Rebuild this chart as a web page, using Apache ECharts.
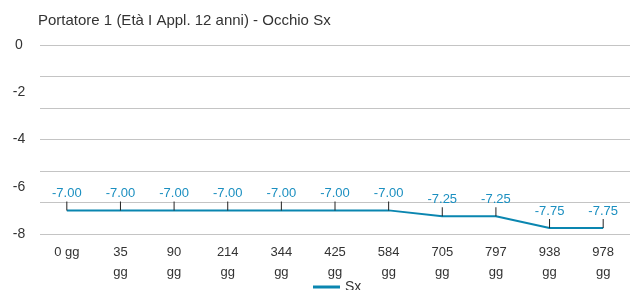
<!DOCTYPE html>
<html>
<head>
<meta charset="utf-8">
<script src="https://cdn.jsdelivr.net/npm/echarts@6/dist/echarts.min.js"></script>
<style>
  html, body { margin: 0; padding: 0; background: #fff; }
  #chart { width: 640px; height: 290px; }
</style>
</head>
<body>
<div id="chart"></div>
<script>
// giorni dall'applicazione
var days = ['0', '35', '90', '214', '344', '425', '584', '705', '797', '938', '978'];
var sxValues = [-7.00, -7.00, -7.00, -7.00, -7.00, -7.00, -7.00, -7.25, -7.25, -7.75, -7.75];
var yMin = -8, yMax = 0;
var labelStep = 2;      // etichette asse y
var gridLines = 6;      // righe orizzontali della griglia

var lineColor = '#0a86b0';
var font = 'Liberation Sans';

var option = {
  animation: false,
  title: {
    text: 'Portatore 1 (Età I Appl. 12 anni) - Occhio Sx',
    left: 33,
    top: 8,
    textStyle: { fontFamily: font, fontSize: 15, fontWeight: 'normal', color: '#333' }
  },
  grid: { left: 40, right: 10, top: 45, bottom: 56 },
  legend: {
    left: 308,
    top: 275,
    itemWidth: 27,
    itemHeight: 3,
    itemGap: 6,
    itemStyle: { color: lineColor },
    textStyle: { fontFamily: font, fontSize: 14, color: '#333' },
    data: [{ name: 'Sx', icon: 'rect', itemStyle: { color: lineColor } }]
  },
  xAxis: {
    type: 'category',
    boundaryGap: true,
    data: days,
    axisLine: { show: false },
    axisTick: { show: false },
    axisLabel: {
      interval: 0,
      margin: 8,
      lineHeight: 20,
      fontFamily: font,
      fontSize: 13,
      color: '#333',
      formatter: function (v) { return v === '0' ? '0 gg' : v + '\ngg'; }
    }
  },
  yAxis: [{
    type: 'value',
    min: yMin,
    max: yMax,
    interval: labelStep,
    axisLine: { show: false },
    axisTick: { show: false },
    axisLabel: { margin: 21, align: 'center', fontFamily: font, fontSize: 14, color: '#333' },
    splitLine: { show: false }
  }, {
    type: 'value',
    position: 'left',
    min: yMin,
    max: yMax,
    interval: (yMax - yMin) / gridLines,
    axisLine: { show: false },
    axisTick: { show: false },
    axisLabel: { show: false },
    splitLine: { lineStyle: { color: '#c4c4c4', width: 1 } }
  }],
  series: [{
    name: 'Sx',
    type: 'line',
    yAxisIndex: 0,
    data: sxValues,
    symbol: 'rect',
    symbolSize: [1, 9],
    symbolOffset: [0, -4.5],
    itemStyle: { color: '#222' },
    lineStyle: { color: lineColor, width: 2 },
    label: {
      show: true,
      position: 'top',
      distance: 1,
      color: '#1b8fc0',
      fontFamily: font,
      fontSize: 13,
      formatter: function (p) { return p.value.toFixed(2); }
    }
  }]
};

echarts.init(document.getElementById('chart')).setOption(option);
</script>
</body>
</html>
